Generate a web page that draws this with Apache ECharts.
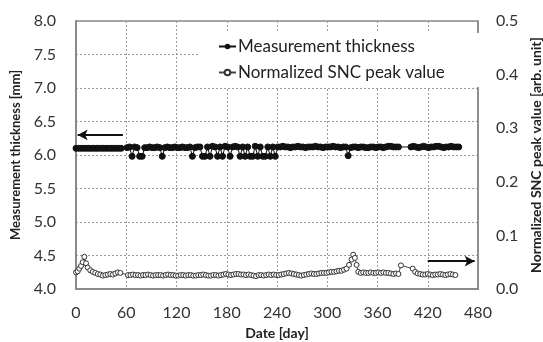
<!DOCTYPE html>
<html><head><meta charset="utf-8">
<script src="https://cdn.jsdelivr.net/npm/echarts@6/dist/echarts.min.js"></script>
<style>html,body{margin:0;padding:0;background:#fff}#c{width:543px;height:342px}</style>
</head><body><div id="c"></div>
<script>
// ---- data ----
var xTicks = [0, 60, 120, 180, 240, 300, 360, 420, 480];
var thickDays = [0,3,6,9,12,15,18,21,24,27,30,33,36,39,42,45,48,51,54,
  61,64,67,70,73,76,79,82,85,88,91,94,97,100,103,106,109,112,115,118,121,124,127,130,133,136,139,142,145,
  148,151,154,157,160,163,166,169,172,175,178,181,184,187,190,193,196,199,202,205,208,211,214,217,220,223,226,229,232,235,238,
  241,244,247,250,253,256,259,262,265,268,271,274,277,280,283,286,289,292,295,298,301,304,307,310,313,316,319,322,325,
  328,331,334,337,340,343,346,349,352,355,358,361,364,367,370,373,376,379,382,385,
  400,403,406,409,412,415,418,421,424,427,430,433,436,439,442,445,448,451,454,457];
var thickVals = [6.10,6.10,6.10,6.10,6.10,6.10,6.10,6.10,6.10,6.10,6.10,6.10,6.10,6.10,6.10,6.10,6.10,6.10,6.10,
  6.11,6.12,5.98,6.12,6.11,5.98,5.98,6.11,6.11,6.12,6.11,6.11,6.12,6.11,5.98,6.11,6.12,6.11,6.11,6.12,6.11,6.11,6.12,6.11,6.11,6.12,5.98,6.11,6.12,
  6.12,5.98,5.98,6.12,5.98,6.13,6.12,5.98,6.12,5.98,6.13,6.12,5.98,6.12,6.13,6.12,5.98,6.12,5.98,6.12,5.98,5.98,6.13,5.98,6.12,5.98,5.98,6.12,5.98,6.12,5.98,
  6.12,6.12,6.13,6.12,6.12,6.11,6.12,6.12,6.13,6.12,6.12,6.11,6.12,6.12,6.12,6.13,6.12,6.12,6.11,6.12,6.12,6.12,6.13,6.12,6.12,6.11,6.12,6.12,5.99,
  6.11,6.12,6.12,6.11,6.12,6.12,6.11,6.11,6.12,6.12,6.11,6.12,6.12,6.11,6.12,6.13,6.13,6.12,6.12,6.12,
  6.12,6.13,6.12,6.11,6.12,6.13,6.12,6.11,6.12,6.12,6.13,6.13,6.12,6.11,6.12,6.12,6.13,6.12,6.12,6.12];
var sncDays = [0,2,4,6,8,10,12,14,17,20,23,26,29,32,35,38,41,44,47,50,53,
  62,65,68,71,74,77,80,83,86,89,92,95,98,101,104,107,110,113,116,119,122,125,128,131,134,137,140,143,146,149,152,155,158,161,164,167,170,173,176,179,182,185,188,191,194,197,200,203,206,209,212,215,218,221,224,227,230,233,236,239,242,245,248,251,254,257,260,263,266,269,272,275,278,281,284,287,290,293,296,299,302,305,308,311,314,317,320,323,326,
  329,331,333,335,337,340,343,346,349,352,355,358,361,364,367,370,373,376,379,382,385,388,
  402,405,408,411,414,417,420,423,426,429,432,435,438,441,444,447,450,453,456];
var sncVals = [0.031,0.033,0.038,0.043,0.050,0.060,0.048,0.040,0.035,0.032,0.030,0.028,0.027,0.025,0.026,0.027,0.028,0.027,0.029,0.031,0.030,
  0.026,0.026,0.027,0.026,0.026,0.025,0.026,0.026,0.027,0.026,0.025,0.026,0.026,0.026,0.025,0.026,0.027,0.026,0.026,0.025,0.025,0.026,0.026,0.025,0.026,0.026,0.025,0.025,0.026,0.026,0.027,0.026,0.025,0.025,0.026,0.026,0.025,0.026,0.027,0.028,0.027,0.026,0.027,0.028,0.028,0.027,0.027,0.026,0.027,0.026,0.025,0.024,0.026,0.026,0.025,0.026,0.027,0.026,0.027,0.026,0.026,0.027,0.028,0.029,0.030,0.029,0.028,0.027,0.026,0.025,0.026,0.027,0.028,0.029,0.028,0.028,0.029,0.030,0.030,0.030,0.031,0.032,0.032,0.033,0.034,0.034,0.036,0.038,
  0.045,0.055,0.064,0.058,0.045,0.032,0.030,0.031,0.030,0.030,0.031,0.030,0.030,0.031,0.030,0.031,0.030,0.030,0.029,0.028,0.029,0.028,
  0.044,0.038,0.032,0.029,0.028,0.027,0.027,0.028,0.027,0.026,0.027,0.027,0.028,0.027,0.026,0.027,0.028,0.027,0.026];
var thickArrow = [[56, 6.30], [2, 6.30]];
var sncArrow = [[420, 0.052], [476, 0.052]];

var thickData = thickDays.map(function(d, i){ return [d, thickVals[i]]; });
var sncData = sncDays.map(function(d, i){ return [d, sncVals[i]]; });

var FONT = 'Lato';
var chart = echarts.init(document.getElementById('c'), null, {renderer: 'canvas'});
chart.setOption({
  animation: false,
  backgroundColor: '#fff',
  textStyle: {fontFamily: FONT},
  grid: {left: 76, right: 65, top: 21, bottom: 53, containLabel: false, outerBoundsMode: 'none',
    show: true, borderColor: '#8a8a8a', borderWidth: 1.5, backgroundColor: 'transparent'},
  legend: {
    orient: 'vertical', left: 200, top: 33, padding: [5, 46, 6, 18],
    backgroundColor: '#fff', itemGap: 9, itemWidth: 17, itemHeight: 7,
    textStyle: {fontFamily: FONT, fontSize: 17, color: '#222', padding: [0, 0, 0, -3]},
    data: ['Measurement thickness', 'Normalized SNC peak value']
  },
  xAxis: {
    type: 'value', min: xTicks[0], max: xTicks[xTicks.length - 1], interval: 60,
    name: 'Date [day]', nameLocation: 'middle', nameGap: 37,
    nameTextStyle: {fontFamily: FONT, fontWeight: 'bold', fontSize: 14, color: '#222'},
    axisLine: {lineStyle: {color: '#8a8a8a', width: 2}},
    axisTick: {show: false},
    axisLabel: {fontFamily: FONT, fontSize: 16, color: '#333', margin: 16},
    splitLine: {lineStyle: {color: '#999', type: [2, 2], width: 1}}
  },
  yAxis: [{
    type: 'value', min: 4, max: 8, interval: 0.5, position: 'left',
    name: 'Measurement thickness [mm]', nameLocation: 'middle', nameGap: 50, nameRotate: 90,
    nameTextStyle: {fontFamily: FONT, fontWeight: 'bold', fontSize: 13, color: '#222'},
    axisLine: {show: true, lineStyle: {color: '#8a8a8a', width: 2}},
    axisTick: {show: false},
    axisLabel: {fontFamily: FONT, fontSize: 16, color: '#333', margin: 20, formatter: function(v){ return v.toFixed(1); }},
    splitLine: {lineStyle: {color: '#999', type: [2, 2], width: 1}}
  }, {
    type: 'value', min: 0, max: 0.5, interval: 0.1, position: 'right',
    name: 'Normalized SNC peak value [arb. unit]', nameLocation: 'middle', nameGap: 51, nameRotate: 90,
    nameTextStyle: {fontFamily: FONT, fontWeight: 'bold', fontSize: 14, color: '#222'},
    axisLine: {show: true, lineStyle: {color: '#8a8a8a', width: 1.5}},
    axisTick: {show: false},
    axisLabel: {fontFamily: FONT, fontSize: 16, color: '#333', margin: 18, formatter: function(v){ return v.toFixed(1); }},
    splitLine: {show: false}
  }],
  series: [{
    name: 'Measurement thickness', type: 'line', yAxisIndex: 0, data: thickData,
    symbol: 'circle', symbolSize: 6, showSymbol: true, showAllSymbol: true,
    lineStyle: {color: '#111', width: 1}, itemStyle: {color: '#111', borderColor: '#111'},
    markLine: {silent: true, symbol: ['none', 'arrow'], symbolSize: [8, 10], label: {show: false},
      lineStyle: {color: '#111', width: 2, type: 'solid'},
      data: [[{coord: thickArrow[0]}, {coord: thickArrow[1]}]]}
  }, {
    name: 'Normalized SNC peak value', type: 'line', yAxisIndex: 1, data: sncData,
    symbol: 'circle', symbolSize: 5, showSymbol: true, showAllSymbol: true,
    lineStyle: {color: '#444', width: 1}, itemStyle: {color: '#fff', borderColor: '#333', borderWidth: 1},
    markLine: {silent: true, symbol: ['none', 'arrow'], symbolSize: [8, 10], label: {show: false},
      lineStyle: {color: '#111', width: 2, type: 'solid'},
      data: [[{coord: sncArrow[0]}, {coord: sncArrow[1]}]]}
  }]
});
</script></body></html>
